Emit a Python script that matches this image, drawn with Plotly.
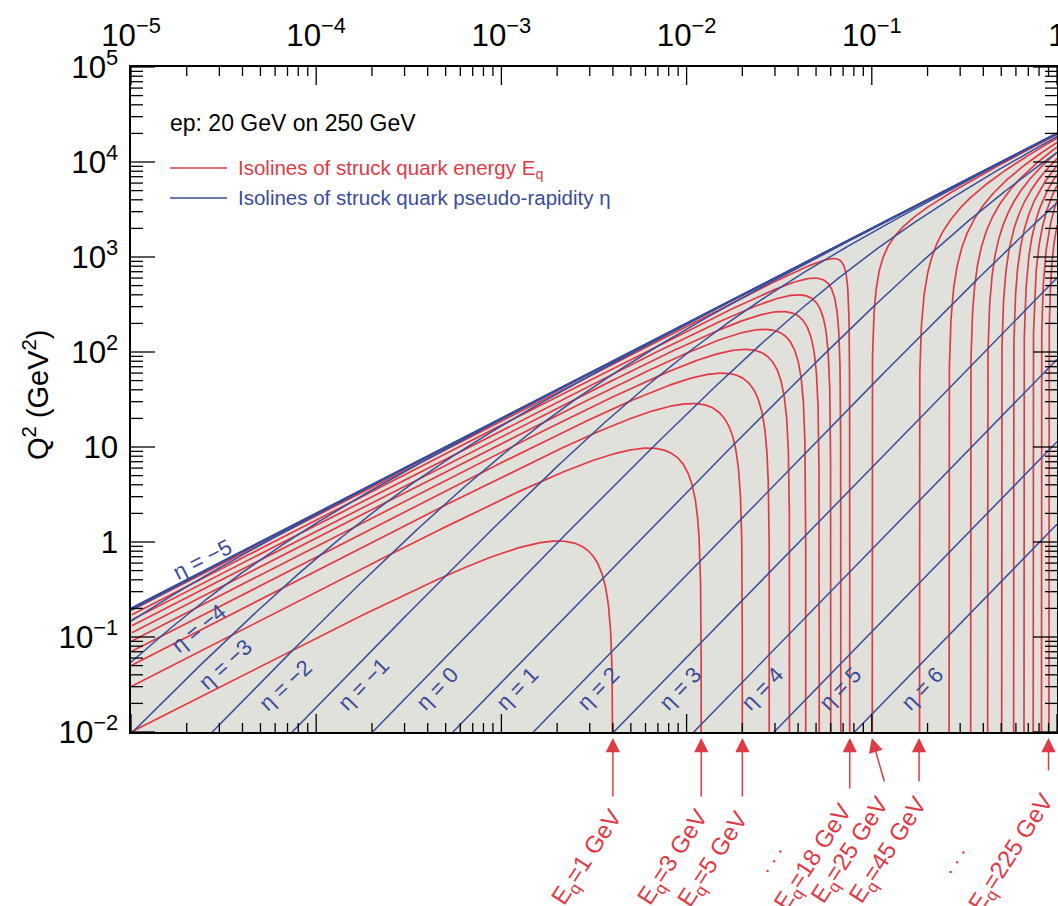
import numpy as np
import plotly.graph_objects as go

# ---------------- data ----------------
E_ELECTRON = 20.0          # GeV
E_PROTON = 250.0           # GeV
S = 4 * E_ELECTRON * E_PROTON   # GeV^2

eq_below = [1, 3, 5, 7, 9, 11, 13, 15, 17, 19]                       # E_q < E_e
eq_above = [25, 45, 65, 85, 105, 125, 145, 165, 185, 205, 225]      # E_q > E_e
eta_values = [-7, -6, -5, -4, -3, -2, -1, 0, 1, 2, 3, 4, 5, 6]
eta_labels = [-5, -4, -3, -2, -1, 0, 1, 2, 3, 4, 5, 6]
arrow_energy = [1, 3, 5, 19, 25, 45, 225]
arrow_text = ["1", "3", "5", "18", "25", "45", "225"]

X_LOG_RANGE = [-5, 0]
Q2_LOG_RANGE = [-2, 5]

# ---------------- styles ----------------
RED = "#e23a44"
BLUE = "#3a4d9a"
GREY = "#e1e1dc"
FONT = "Liberation Sans, Arial, sans-serif"

W, H = 1058, 906
L, R, T, B = 131, 1057, 67, 732
PX_PER_DEC_X = (R - L) / (X_LOG_RANGE[1] - X_LOG_RANGE[0])
PX_PER_DEC_Y = (B - T) / (Q2_LOG_RANGE[1] - Q2_LOG_RANGE[0])


def px(xp):
    return (xp - L) / (R - L)


def py(yp):
    return (B - yp) / (B - T)


fig = go.Figure()

# kinematic region (y <= 1)
xb = np.logspace(X_LOG_RANGE[0], X_LOG_RANGE[1], 50)
fig.add_trace(go.Scatter(
    x=np.concatenate([xb, [xb[-1], xb[0]]]),
    y=np.concatenate([S * xb, [10 ** Q2_LOG_RANGE[0], 10 ** Q2_LOG_RANGE[0]]]),
    fill="toself", fillcolor=GREY, line=dict(width=0), mode="lines",
    hoverinfo="skip", showlegend=False))

# red isolines of struck quark energy
for E in eq_below:
    xe = E / E_PROTON
    xs = np.concatenate([np.logspace(-5, np.log10(xe), 800),
                         xe * (1 - np.logspace(-12, -0.2, 500))])
    xs = np.unique(xs[(xs >= 1e-5) & (xs < xe)])
    yy = (E - xs * E_PROTON) / (E_ELECTRON - xs * E_PROTON)
    fig.add_trace(go.Scatter(x=xs, y=S * xs * yy, mode="lines",
                             line=dict(color=RED, width=1.7),
                             hoverinfo="skip", showlegend=False))
for E in eq_above:
    xs0 = E / E_PROTON
    xs = np.concatenate([np.logspace(np.log10(xs0), 0, 600),
                         xs0 * (1 + np.logspace(-12, -0.5, 500))])
    xs = np.unique(xs[(xs > xs0) & (xs <= 1)])
    yy = (xs * E_PROTON - E) / (xs * E_PROTON - E_ELECTRON)
    fig.add_trace(go.Scatter(x=xs, y=S * xs * yy, mode="lines",
                             line=dict(color=RED, width=1.7),
                             hoverinfo="skip", showlegend=False))

# blue isolines of pseudo-rapidity
xg = np.logspace(X_LOG_RANGE[0], X_LOG_RANGE[1], 400)
for eta in eta_values:
    c = 4 * E_ELECTRON ** 2 * np.exp(2 * eta)
    yy = S * xg / (S * xg + c)
    fig.add_trace(go.Scatter(x=xg, y=S * xg * yy, mode="lines",
                             line=dict(color=BLUE, width=1.5),
                             hoverinfo="skip", showlegend=False))
# kinematic limit y = 1
fig.add_trace(go.Scatter(x=xb, y=S * xb, mode="lines",
                         line=dict(color=BLUE, width=2.2),
                         hoverinfo="skip", showlegend=False))

# ---- inward ticks on all four sides (major per decade, minor at digits 2..9) ----
major_x = [10.0 ** d for d in range(X_LOG_RANGE[0], X_LOG_RANGE[1] + 1)]
major_y = [10.0 ** d for d in range(Q2_LOG_RANGE[0], Q2_LOG_RANGE[1] + 1)]
minor_x = [m * 10.0 ** d for d in range(X_LOG_RANGE[0], X_LOG_RANGE[1]) for m in range(2, 10)]
minor_y = [m * 10.0 ** d for d in range(Q2_LOG_RANGE[0], Q2_LOG_RANGE[1]) for m in range(2, 10)]

tx, ty = [], []
ylo, yhi = 10.0 ** Q2_LOG_RANGE[0], 10.0 ** Q2_LOG_RANGE[1]
xlo, xhi = 10.0 ** X_LOG_RANGE[0], 10.0 ** X_LOG_RANGE[1]
for vals, ln in [(major_x, 18), (minor_x, 9)]:
    f = 10 ** (ln / PX_PER_DEC_Y)
    for v in vals:
        tx += [v, v, None, v, v, None]
        ty += [yhi, yhi / f, None, ylo, ylo * f, None]
for vals, ln in [(major_y, 24), (minor_y, 12)]:
    f = 10 ** (ln / PX_PER_DEC_X)
    for v in vals:
        tx += [xlo, xlo * f, None, xhi, xhi / f, None]
        ty += [v, v, None, v, v, None]
fig.add_trace(go.Scatter(x=tx, y=ty, mode="lines", line=dict(color="black", width=1.3),
                         hoverinfo="skip", showlegend=False, connectgaps=False))

ann = []
shapes = []

eta_label_pos = {-5: (202, 559, -27), -4: (198, 628, -39), -3: (225, 664, -42),
                 -2: (285, 685, -43), -1: (363, 684, -46), 0: (437, 688, -46),
                 1: (517, 688, -46), 2: (598, 688, -46), 3: (680, 688, -46),
                 4: (762, 688, -46), 5: (840, 688, -46), 6: (922, 688, -46)}
for eta in eta_labels:
    xp, yp, ang = eta_label_pos[eta]
    t = str(eta) if eta >= 0 else "\u2212" + str(-eta)
    ann.append(dict(xref="paper", yref="paper", x=px(xp), y=py(yp),
                    text="\u03b7 = " + t, showarrow=False, textangle=ang,
                    xanchor="center", yanchor="middle",
                    font=dict(family=FONT, size=22, color=BLUE)))

# arrows + energy labels below the plot
arrow_geom = {"1": (0, 60, 632, 802), "3": (0, 60, 718, 802), "5": (0, 60, 758, 804),
              "18": (0, 52, 863, 796), "25": (13, 45, 900, 789),
              "45": (0, 45, 938, 789), "225": (0, 34, 1064, 786)}
for E, lab in zip(arrow_energy, arrow_text):
    ax_, ay_, lx, ly = arrow_geom[lab]
    ann.append(dict(xref="x", yref="paper", x=np.log10(E / E_PROTON), y=py(738),
                    text="", showarrow=True, ax=ax_, ay=ay_, axref="pixel", ayref="pixel",
                    arrowhead=2, arrowsize=1.9, arrowwidth=1.5, arrowcolor=RED,
                    standoff=0))
    ann.append(dict(xref="paper", yref="paper", x=px(lx), y=py(ly),
                    text="E<sub>q</sub>=" + lab + " GeV", showarrow=False,
                    textangle=-57, xanchor="right", yanchor="top",
                    font=dict(family=FONT, size=24, color=RED)))
for (xp, yp) in [(768, 858), (951, 859)]:
    ann.append(dict(xref="paper", yref="paper", x=px(xp), y=py(yp), text=". . .",
                    showarrow=False, textangle=-57, xanchor="center", yanchor="middle",
                    font=dict(family=FONT, size=21, color=RED)))

# legend block
ann.append(dict(xref="paper", yref="paper", x=px(168), y=py(123), text="ep: 20 GeV on 250 GeV",
                showarrow=False, xanchor="left", yanchor="middle",
                font=dict(family=FONT, size=23, color="black")))
ann.append(dict(xref="paper", yref="paper", x=px(236), y=py(169),
                text="Isolines of struck quark energy E<sub>q</sub>",
                showarrow=False, xanchor="left", yanchor="middle",
                font=dict(family=FONT, size=20.5, color=RED)))
ann.append(dict(xref="paper", yref="paper", x=px(236), y=py(198),
                text="Isolines of struck quark pseudo-rapidity \u03b7",
                showarrow=False, xanchor="left", yanchor="middle",
                font=dict(family=FONT, size=20.5, color=BLUE)))
shapes.append(dict(type="line", xref="paper", yref="paper", x0=px(170), x1=px(227),
                   y0=py(168), y1=py(168), line=dict(color=RED, width=1.6)))
shapes.append(dict(type="line", xref="paper", yref="paper", x0=px(170), x1=px(227),
                   y0=py(198), y1=py(198), line=dict(color=BLUE, width=1.6)))

# y-axis title
ann.append(dict(xref="paper", yref="paper", x=px(36), y=py(395),
                text="Q<sup>2</sup> (GeV<sup>2</sup>)", showarrow=False, textangle=-90,
                xanchor="center", yanchor="middle",
                font=dict(family=FONT, size=29, color="black")))

axis_common = dict(type="log", dtick=1, exponentformat="power", showgrid=False,
                   zeroline=False, showline=True, linecolor="black", linewidth=1.5,
                   mirror=True, ticks="", automargin=False,
                   ticklabeloverflow="allow",
                   tickfont=dict(family=FONT, size=25, color="black"))

fig.update_layout(
    width=W, height=H,
    margin=dict(l=L, r=W - R, t=T, b=H - B, pad=0, autoexpand=False),
    paper_bgcolor="white", plot_bgcolor="white",
    font=dict(family=FONT),
    xaxis=dict(range=X_LOG_RANGE, side="top", ticklabelstandoff=8, **axis_common),
    yaxis=dict(range=Q2_LOG_RANGE, ticklabelstandoff=6, **axis_common),
    annotations=ann, shapes=shapes, showlegend=False,
)

fig.write_html("out.html", config={"displayModeBar": False},
               post_script="document.body.style.margin='0';")
